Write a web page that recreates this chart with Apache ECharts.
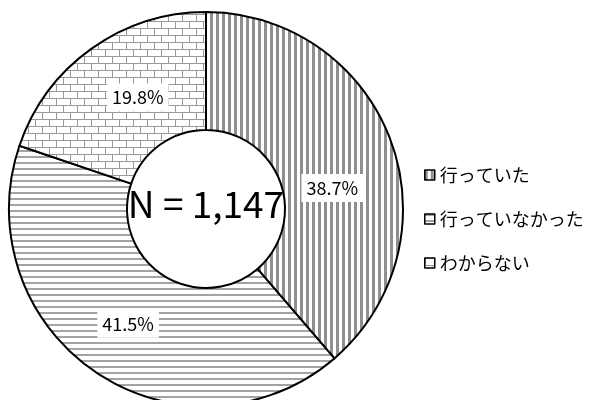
<!DOCTYPE html>
<html>
<head>
<meta charset="utf-8">
<script src="https://cdn.jsdelivr.net/npm/echarts@6/dist/echarts.min.js"></script>
<style>
  html, body { margin: 0; padding: 0; background: #fff; }
  #chart { width: 592px; height: 400px; }
</style>
</head>
<body>
<div id="chart"></div>
<script>
// 回答の内訳
const categories = ['行っていた', '行っていなかった', 'わからない'];
const shares = [38.7, 41.5, 19.8];
const totalN = '1,147';

// 塗りつぶしパターン（白黒印刷風）
function makePattern(kind) {
  const c = document.createElement('canvas');
  const ctx = c.getContext('2d');
  if (kind === 'vertical') {
    c.width = 6; c.height = 6;
    ctx.fillStyle = '#fff'; ctx.fillRect(0, 0, 6, 6);
    ctx.fillStyle = '#8f8f8f'; ctx.fillRect(0, 0, 3, 6);
  } else if (kind === 'horizontal') {
    c.width = 6; c.height = 6;
    ctx.fillStyle = '#fff'; ctx.fillRect(0, 0, 6, 6);
    ctx.fillStyle = '#a3a3a3'; ctx.fillRect(0, 0, 6, 2);
  } else {
    // れんが
    c.width = 14; c.height = 14;
    ctx.fillStyle = '#fff'; ctx.fillRect(0, 0, 14, 14);
    ctx.fillStyle = '#9a9a9a';
    ctx.fillRect(0, 0, 14, 1);
    ctx.fillRect(0, 7, 14, 1);
    ctx.fillRect(0, 0, 1, 7);
    ctx.fillRect(7, 7, 1, 7);
  }
  return { image: c, repeat: 'repeat' };
}

const patterns = [makePattern('vertical'), makePattern('horizontal'), makePattern('brick')];
// 38.7% のラベルだけ少し下に置かれている
const labelOffsets = [[-6, 28], [1, -2], [14, 3]];

const chart = echarts.init(document.getElementById('chart'));
chart.setOption({
  animation: false,
  legend: {
    orient: 'vertical',
    left: 419,
    top: 161,
    itemWidth: 10,
    itemHeight: 10,
    itemGap: 26,
    itemTextGap: 5,
    icon: 'rect',
    selectedMode: false,
    textStyle: { fontSize: 18, color: '#000', fontFamily: 'Noto Sans CJK JP' },
    itemStyle: { borderColor: '#000', borderWidth: 1.5 }
  },
  graphic: [{
    type: 'text',
    x: 206,
    y: 204,
    style: {
      text: 'N = ' + totalN,
      align: 'center',
      verticalAlign: 'middle',
      fontSize: 37,
      fontFamily: 'Noto Sans CJK JP',
      fill: '#000'
    },
    z: 100
  }],
  series: [{
    type: 'pie',
    center: [206, 209],
    radius: [79, 197],
    startAngle: 90,
    clockwise: true,
    silent: true,
    itemStyle: { borderColor: '#000', borderWidth: 2 },
    label: {
      show: true,
      position: 'inside',
      formatter: p => p.value.toFixed(1) + '%',
      fontSize: 18,
      color: '#000',
      fontFamily: 'Noto Sans CJK JP',
      backgroundColor: '#fff',
      padding: [5, 5]
    },
    labelLine: { show: false },
    data: categories.map((name, i) => ({
      name: name,
      value: shares[i],
      itemStyle: { color: patterns[i] },
      label: { offset: labelOffsets[i] }
    }))
  }]
});
</script>
</body>
</html>
